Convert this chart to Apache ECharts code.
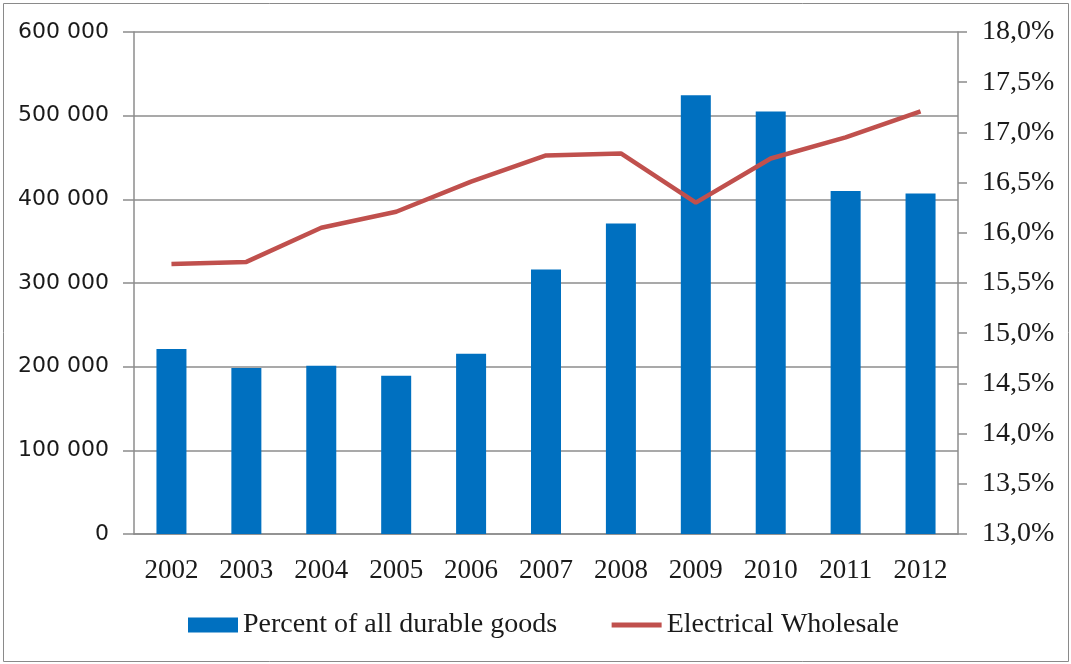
<!DOCTYPE html>
<html><head><meta charset="utf-8">
<script src="https://cdn.jsdelivr.net/npm/echarts@6/dist/echarts.min.js"></script>
<style>html,body{margin:0;padding:0;background:#fff}#c{width:1071px;height:664px}</style>
</head><body><div id="c"></div>
<script>
const categories = ['2002','2003','2004','2005','2006','2007','2008','2009','2010','2011','2012'];
const durableGoods = [221000, 198500, 201000, 189000, 215500, 316000, 371000, 524500, 505000, 410000, 407000];
const electricalWholesale = [15.69, 15.71, 16.05, 16.21, 16.51, 16.77, 16.79, 16.30, 16.74, 16.95, 17.21];
const leftTicks = {min: 0, max: 600000, interval: 100000};
const rightTicks = {min: 13, max: 18, interval: 0.5};

const chart = echarts.init(document.getElementById('c'), null, {renderer: 'canvas'});
const serif = '"Liberation Serif", "Times New Roman", serif';
const gray = '#8c8c8c';
chart.setOption({
  animation: false,
  backgroundColor: '#fff',
  graphic: [{
    type: 'rect', shape: {x: 3.5, y: 3.5, width: 1065, height: 658},
    style: {fill: 'none', stroke: '#8a8a8a', lineWidth: 1}, z: -10
  }],
  grid: {left: 134, right: 113, top: 32, bottom: 130, containLabel: false},
  legend: {
    left: 183, top: 606,
    itemWidth: 50, itemHeight: 15, itemGap: 52,
    textStyle: {fontFamily: serif, fontSize: 28, color: '#1a1a1a'},
    data: [
      {name: 'Percent of all durable goods', icon: 'rect'},
      {name: 'Electrical Wholesale', itemStyle: {opacity: 0}, lineStyle: {width: 5, color: '#C0504D'}}
    ]
  },
  xAxis: {
    type: 'category', data: categories, boundaryGap: true,
    axisLine: {lineStyle: {color: gray, width: 1.5}},
    axisTick: {length: 9, lineStyle: {color: gray, width: 1.5}},
    axisLabel: {fontFamily: serif, fontSize: 27, color: '#1a1a1a', margin: 23}
  },
  yAxis: [{
    type: 'value', min: leftTicks.min, max: leftTicks.max, interval: leftTicks.interval,
    axisLine: {show: true, lineStyle: {color: gray, width: 1.5}},
    axisTick: {show: true, length: 11, lineStyle: {color: gray, width: 1.5}},
    splitLine: {lineStyle: {color: gray, width: 1.5}},
    axisLabel: {fontFamily: '"DejaVu Sans", sans-serif', fontSize: 22, color: '#1a1a1a', margin: 25,
      formatter: v => String(v).replace(/\B(?=(\d{3})+(?!\d))/g, ' ')}
  }, {
    type: 'value', min: rightTicks.min, max: rightTicks.max, interval: rightTicks.interval, position: 'right',
    axisLine: {show: true, lineStyle: {color: gray, width: 1.5}},
    axisTick: {show: true, length: 9, lineStyle: {color: gray, width: 1.5}},
    splitLine: {show: false},
    axisLabel: {fontFamily: serif, fontSize: 28, color: '#1a1a1a', margin: 24,
      formatter: v => v.toFixed(1).replace('.', ',') + '%'}
  }],
  series: [{
    name: 'Percent of all durable goods', type: 'bar', data: durableGoods, yAxisIndex: 0,
    barWidth: 30, itemStyle: {color: '#0070C0'}
  }, {
    name: 'Electrical Wholesale', type: 'line', data: electricalWholesale, yAxisIndex: 1,
    symbol: 'none', lineStyle: {color: '#C0504D', width: 4.5}, itemStyle: {color: '#C0504D'}
  }]
});
</script></body></html>
